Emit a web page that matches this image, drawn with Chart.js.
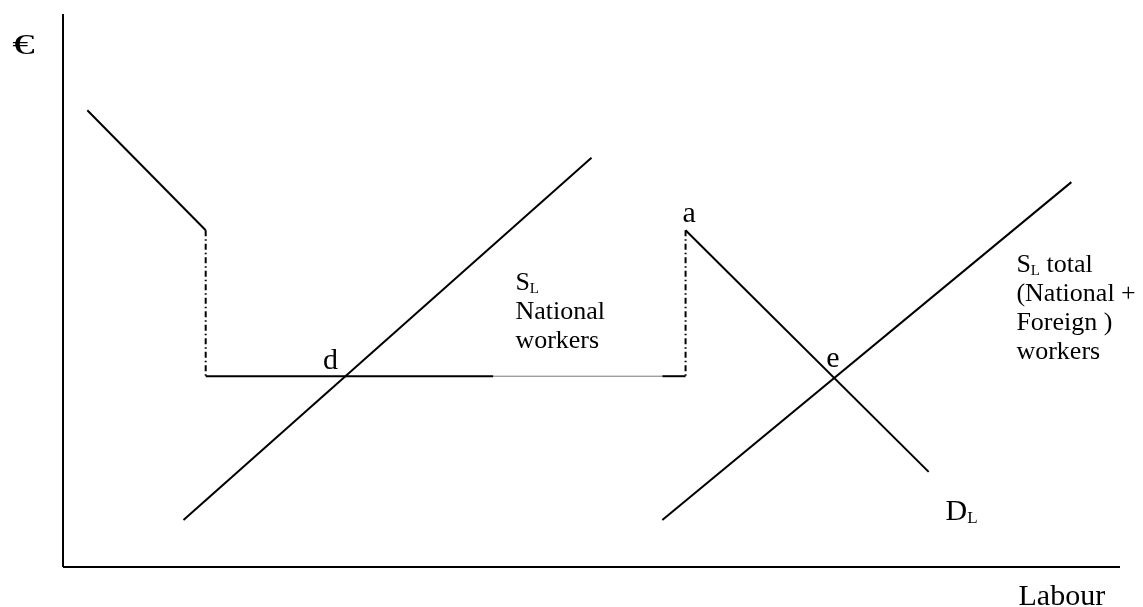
<!DOCTYPE html>
<html>
<head>
<meta charset="utf-8">
<script src="https://cdn.jsdelivr.net/npm/chart.js@4/dist/chart.umd.min.js"></script>
<style>
  html, body { margin: 0; padding: 0; background: #fff; }
  canvas { display: block; }
</style>
</head>
<body>
<canvas id="labourChart" width="1143" height="607"></canvas>
<script>
// Labour (x) and wage in € (y), both on a 0-100 scale
const axisLabour = [0, 100];
const axisWage = [0, 100];

// left part of labour demand, above the cap
const demandTopLabour = [2.3, 13.5];
const demandTopWage = [82.6, 60.9];

// quota drop lines (dash-dot)
const dropLeftLabour = [13.5, 13.5];
const dropRightLabour = [58.9, 58.9];
const dropWage = [60.9, 34.5];

// wage floor line, split where it thins out
const floorLabour = [13.5, 40.7];
const floorThinLabour = [40.7, 56.7];
const floorEndLabour = [56.7, 58.9];
const floorWage = [34.5, 34.5];

// S_L national workers
const supplyNatLabour = [11.4, 50.0];
const supplyNatWage = [8.5, 74.0];

// D_L from point a
const demandLabour = [58.9, 81.9];
const demandWage = [60.9, 17.2];

// S_L total (national + foreign)
const supplyTotLabour = [56.7, 95.4];
const supplyTotWage = [8.5, 69.6];

function pts(xs, ys) {
  return xs.map((x, i) => ({ x: x, y: ys[i] }));
}

function seg(xs, ys, extra) {
  return Object.assign({
    data: pts(xs, ys),
    showLine: true,
    borderColor: "#000",
    borderWidth: 2,
    pointRadius: 0,
    clip: false,
  }, extra || {});
}

const dashDot = [6, 3, 1.5, 3];

// text labels, anchored in data units (left, baseline)
const SERIF = "'Liberation Serif', 'DejaVu Serif', serif";
const notes = [
  { x: -4.8, y: 92.8, size: 29, sub: 15, stretch: 1.55, lines: [["€"]] },
  { x: 24.6, y: 35.8, size: 30, sub: 17, lines: [["d"]] },
  { x: 58.6, y: 62.4, size: 30, sub: 17, lines: [["a"]] },
  { x: 72.2, y: 36.2, size: 30, sub: 17, lines: [["e"]] },
  { x: 42.8, y: 50.1, size: 26, sub: 15, lines: [["S", "L"], ["National"], ["workers"]] },
  { x: 90.2, y: 53.3, size: 26, sub: 15, lines: [["S", "L", " total"], ["(National +"], ["Foreign )"], ["workers"]] },
  { x: 83.5, y: 8.5, size: 30, sub: 17, lines: [["D", "L"]] },
  { x: 90.4, y: -6.9, size: 30, sub: 17, lines: [["Labour"]] },
];

const notesPlugin = {
  id: "notes",
  afterDraw(chart) {
    const ctx = chart.ctx;
    const sx = chart.scales.x, sy = chart.scales.y;
    ctx.save();
    ctx.fillStyle = "#000";
    ctx.textBaseline = "alphabetic";
    notes.forEach(n => {
      const left = sx.getPixelForValue(n.x);
      const base = sy.getPixelForValue(n.y);
      const k = n.stretch || 1;
      n.lines.forEach((parts, i) => {
        let cx = left;
        const by = base + i * 29;
        parts.forEach((txt, j) => {
          const small = j === 1;
          ctx.font = (small ? n.sub : n.size) + "px " + SERIF;
          ctx.save();
          ctx.translate(cx, by + (small ? 3 : 0));
          ctx.scale(k, 1);
          ctx.fillText(txt, 0, 0);
          ctx.restore();
          cx += ctx.measureText(txt).width * k;
        });
      });
    });
    ctx.restore();
  },
};

const ctx = document.getElementById("labourChart").getContext("2d");
new Chart(ctx, {
  type: "scatter",
  data: {
    datasets: [
      seg([0, 0], axisWage),
      seg(axisLabour, [0, 0]),
      seg(demandTopLabour, demandTopWage),
      seg(dropLeftLabour, dropWage, { borderDash: dashDot }),
      seg(dropRightLabour, dropWage, { borderDash: dashDot }),
      seg(floorLabour, floorWage),
      seg(floorThinLabour, floorWage, { borderWidth: 1, borderColor: "#777" }),
      seg(floorEndLabour, floorWage),
      seg(supplyNatLabour, supplyNatWage),
      seg(demandLabour, demandWage),
      seg(supplyTotLabour, supplyTotWage),
    ],
  },
  options: {
    responsive: false,
    animation: false,
    devicePixelRatio: 1,
    layout: { padding: { left: 63, right: 23, top: 14, bottom: 40 } },
    plugins: {
      legend: { display: false },
      tooltip: { enabled: false },
    },
    scales: {
      x: { type: "linear", min: 0, max: 100, display: false },
      y: { type: "linear", min: 0, max: 100, display: false },
    },
  },
  plugins: [notesPlugin],
});
</script>
</body>
</html>
